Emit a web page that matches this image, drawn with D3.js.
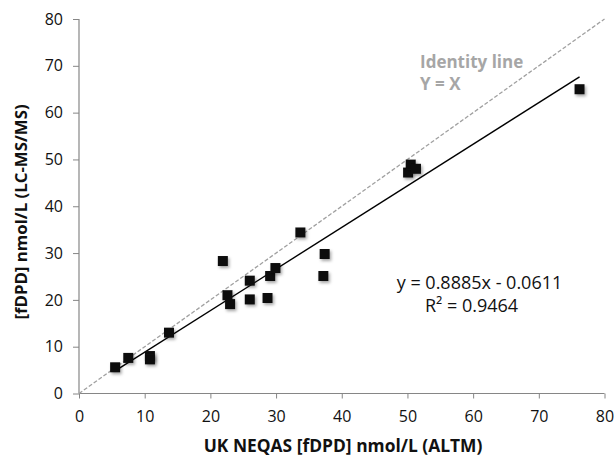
<!DOCTYPE html>
<html><head><meta charset="utf-8">
<script src="https://cdn.jsdelivr.net/npm/d3@7/dist/d3.min.js"></script>
<style>body{margin:0;background:#fff}svg{display:block}</style>
</head><body>
<script>
const xVals = [5.5, 7.5, 10.8, 10.8, 13.7, 21.9, 22.6, 23.0, 26.0, 26.0, 28.7, 29.1, 29.9, 33.7, 37.2, 37.4, 50.1, 50.5, 51.3, 76.2];
const yVals = [5.6, 7.6, 8.0, 7.3, 13.0, 28.3, 21.0, 19.1, 24.1, 20.1, 20.4, 25.1, 26.8, 34.4, 25.1, 29.8, 47.2, 48.9, 48.0, 65.0];
const ticks = [0, 10, 20, 30, 40, 50, 60, 70, 80];
const slope = 0.8885, intercept = -0.0611;
const eqLabel = "y = 0.8885x - 0.0611";
const r2Label = "R² = 0.9464";
const idLabels = ["Identity line", "Y = X"];
const xTitle = "UK NEQAS [fDPD] nmol/L (ALTM)";
const yTitle = "[fDPD] nmol/L (LC-MS/MS)";

const W = 616, H = 457;
const svg = d3.select("body").append("svg").attr("width", W).attr("height", H);
const font = "'Open Sans', sans-serif";
const x = d3.scaleLinear().domain([0, 80]).range([79, 604.5]);
const y = d3.scaleLinear().domain([0, 80]).range([393.5, 19]);

const defs = svg.append("defs");
const f = defs.append("filter").attr("id", "sh").attr("x", "-50%").attr("y", "-50%").attr("width", "200%").attr("height", "200%");
f.append("feDropShadow").attr("dx", 1.5).attr("dy", 2).attr("stdDeviation", 1.5).attr("flood-color", "#000").attr("flood-opacity", 0.35);

// axes
const xAxis = d3.axisBottom(x).tickValues(ticks).tickSize(5).tickPadding(12);
const yAxis = d3.axisLeft(y).tickValues(ticks).tickSize(6).tickPadding(10);
const gx = svg.append("g").attr("transform", `translate(0,${y(0)})`).call(xAxis);
const gy = svg.append("g").attr("transform", `translate(${x(0)},0)`).call(yAxis);
[gx, gy].forEach(g => {
  g.attr("font-size", null);
  g.select(".domain").attr("stroke", "#868686").attr("stroke-width", 1.2);
  g.selectAll(".tick line").attr("stroke", "#868686");
  g.selectAll(".tick text").attr("fill", "#111").style("font-family", font).style("font-size", "16px");
});
gx.selectAll(".domain").attr("d", `M${x(0)},0H${x(80)}`);
gy.selectAll(".domain").attr("d", `M0,${y(0)}V${y(80)}`);

// identity line
svg.append("line").attr("x1", x(0)).attr("y1", y(0)).attr("x2", x(80)).attr("y2", y(80))
  .attr("stroke", "#a0a0a0").attr("stroke-width", 1.3).attr("stroke-dasharray", "4,2");
// regression line
const xmin = d3.min(xVals), xmax = d3.max(xVals);
svg.append("line").attr("x1", x(xmin)).attr("y1", y(slope * xmin + intercept))
  .attr("x2", x(xmax)).attr("y2", y(slope * xmax + intercept))
  .attr("stroke", "#000").attr("stroke-width", 1.4);

// points
const s = 10;
svg.append("g").selectAll("rect").data(xVals.map((v, i) => [v, yVals[i]])).join("rect")
  .attr("x", d => x(d[0]) - s / 2).attr("y", d => y(d[1]) - s / 2)
  .attr("width", s).attr("height", s).attr("fill", "#111").attr("filter", "url(#sh)");

// identity text
svg.append("text").attr("x", 420).attr("y", 68).text(idLabels[0])
  .attr("fill", "#a6a6a6").style("font-family", font).style("font-weight", "bold").style("font-size", "17px");
svg.append("text").attr("x", 420).attr("y", 89.5).text(idLabels[1])
  .attr("fill", "#a6a6a6").style("font-family", font).style("font-weight", "bold").style("font-size", "17px");

// equation
svg.append("text").attr("x", 479.5).attr("y", 288.5).attr("text-anchor", "middle").text(eqLabel)
  .style("font-family", font).style("font-size", "18px").attr("fill", "#111");
svg.append("text").attr("x", 471.5).attr("y", 312).attr("text-anchor", "middle").text(r2Label)
  .style("font-family", font).style("font-size", "18px").attr("fill", "#111");

// titles
svg.append("text").attr("x", 343).attr("y", 452).attr("text-anchor", "middle").text(xTitle)
  .style("font-family", font).style("font-weight", "bold").style("font-size", "17.4px").attr("fill", "#111");
svg.append("text").attr("transform", `translate(27,212) rotate(-90)`).attr("text-anchor", "middle").text(yTitle)
  .style("font-family", font).style("font-weight", "bold").style("font-size", "16.8px").attr("fill", "#111");
</script>
</body></html>
